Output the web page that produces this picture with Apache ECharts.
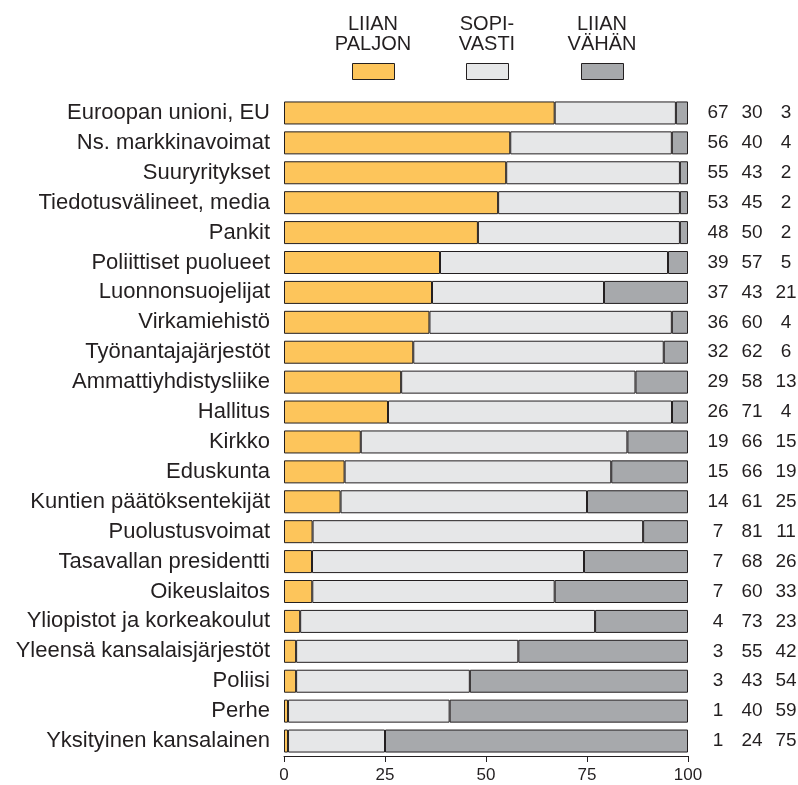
<!DOCTYPE html>
<html>
<head>
<meta charset="utf-8">
<script src="https://cdn.jsdelivr.net/npm/echarts@6/dist/echarts.min.js"></script>
<style>html,body{margin:0;padding:0;background:#fff;}#c{width:798px;height:785px;}</style>
</head>
<body>
<div id="c"></div>
<script>
const categories = ["Euroopan unioni, EU","Ns. markkinavoimat","Suuryritykset","Tiedotusvälineet, media","Pankit","Poliittiset puolueet","Luonnonsuojelijat","Virkamiehistö","Työnantajajärjestöt","Ammattiyhdistysliike","Hallitus","Kirkko","Eduskunta","Kuntien päätöksentekijät","Puolustusvoimat","Tasavallan presidentti","Oikeuslaitos","Yliopistot ja korkeakoulut","Yleensä kansalaisjärjestöt","Poliisi","Perhe","Yksityinen kansalainen"];
const liianPaljon = [67,56,55,53,48,39,37,36,32,29,26,19,15,14,7,7,7,4,3,3,1,1];
const sopivasti   = [30,40,43,45,50,57,43,60,62,58,71,66,66,61,81,68,60,73,55,43,40,24];
const liianVahan  = [3,4,2,2,2,5,21,4,6,13,4,15,19,25,11,26,33,23,42,54,59,75];
const seriesNames = ["LIIAN\nPALJON","SOPI-\nVASTI","LIIAN\nVÄHÄN"];
const xTicks = [0,25,50,75,100];

const colors = ["#FDC55B","#E6E7E8","#A7A9AC"];
const ink = "#231F20";
const totals = categories.map((_, i) => liianPaljon[i] + sopivasti[i] + liianVahan[i]);
const norm = arr => arr.map((v, i) => v / totals[i] * 100);
const raw = [liianPaljon, sopivasti, liianVahan];

const chart = echarts.init(document.getElementById('c'), null, {renderer: 'canvas'});
const font = "Arial, 'Liberation Sans', Helvetica, sans-serif";
const narrow = "'Liberation Sans Narrow', 'Arial Narrow', Arial, sans-serif";

const legendX = [352, 466, 581];
const legends = seriesNames.map((n, k) => ({
  data: [{name: n, icon: 'rect'}], left: legendX[k], top: 63, itemWidth: 42, itemHeight: 16,
  orient: 'horizontal', selectedMode: false, padding: 0,
  formatter: () => '', textStyle: {fontSize: 1},
  itemStyle: {borderColor: ink, borderWidth: 1}
}));
const legendText = seriesNames.map((n, k) => ({
  type: 'text', x: legendX[k] + 21, y: 14,
  style: {text: n, fill: ink, font: "20px " + narrow, textAlign: 'center', lineHeight: 20.5}
}));

chart.setOption({
  animation: false,
  backgroundColor: '#fff',
  legend: legends,
  graphic: legendText,
  grid: {left: 284, right: 110, top: 98, bottom: 29, containLabel: false, outerBoundsMode: 'none'},
  xAxis: {
    type: 'value', min: 0, max: 100, interval: 25,
    axisLine: {show: true, lineStyle: {color: ink, width: 1}},
    axisTick: {show: true, length: 6, lineStyle: {color: ink}},
    splitLine: {show: false},
    axisLabel: {color: ink, fontSize: 17, fontFamily: font, margin: 11,
      formatter: v => xTicks.includes(v) ? String(v) : ''}
  },
  yAxis: [{
    type: 'category', data: categories, inverse: true,
    axisLine: {show: false}, axisTick: {show: false},
    axisLabel: {color: ink, fontSize: 22, fontFamily: font, margin: 14}
  }, {
    type: 'category', data: categories, inverse: true, position: 'right',
    axisLine: {show: false}, axisTick: {show: false},
    axisLabel: {
      margin: 13, fontFamily: font,
      formatter: (v, i) => `{a|${liianPaljon[i]}}{b|${sopivasti[i]}}{c|${liianVahan[i]}}`,
      rich: {
        a: {width: 34, align: 'center', fontSize: 19, color: ink, fontFamily: font},
        b: {width: 34, align: 'center', fontSize: 19, color: ink, fontFamily: font},
        c: {width: 34, align: 'center', fontSize: 19, color: ink, fontFamily: font}
      }
    }
  }],
  series: raw.map((arr, k) => ({
    name: seriesNames[k], type: 'bar', stack: 'all', yAxisIndex: 0,
    data: norm(arr), barWidth: 23,
    itemStyle: {color: colors[k], borderColor: ink, borderWidth: 1},
    emphasis: {disabled: true}
  }))
});
</script>
</body>
</html>
